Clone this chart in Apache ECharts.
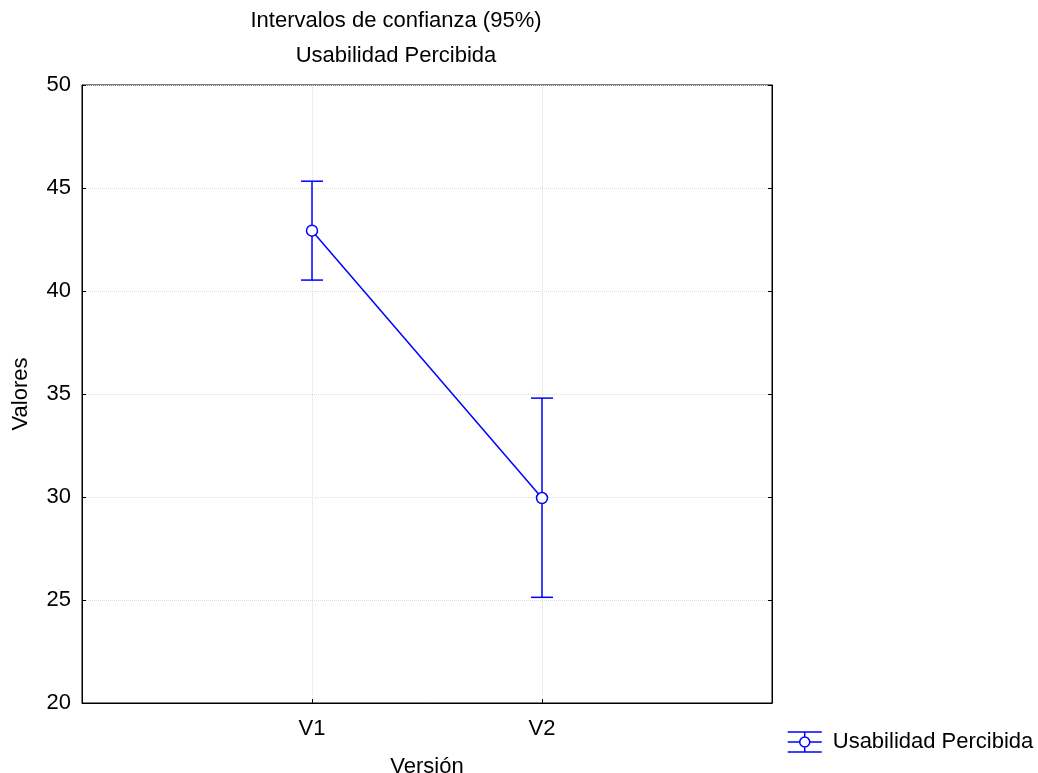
<!DOCTYPE html>
<html lang="es">
<head>
    <meta charset="UTF-8">
    <title>Intervalos de confianza</title>
    <script src="https://cdn.jsdelivr.net/npm/echarts@6/dist/echarts.min.js"></script>
</head>
<body style="margin:0;background:#fff">
<div id="chart" style="width:1038px;height:773px"></div>
<script>
    // datos
    var categories = ['V1', 'V2'];
    var means = [42.93, 29.95];
    var lower = [40.53, 25.13];
    var upper = [45.33, 34.80];
    var yMin = 20, yMax = 50, yStep = 5;

    var blue = '#0000ff';
    var font = 'Liberation Sans, Arial, sans-serif';
    var fs = 22;

    // eje x con huecos a los lados (como en el original)
    var xCats = [''].concat(categories).concat(['']);

    var lineData = categories.map(function (c, i) { return [c, means[i]]; });
    var barData = categories.map(function (c, i) { return [c, lower[i], upper[i]]; });

    var myChart = echarts.init(document.getElementById('chart'));

    var option = {
        animation: false,
        textStyle: {fontFamily: font},
        title: {
            text: 'Intervalos de confianza (95%)\nUsabilidad Percibida',
            left: 396,
            top: 3,
            padding: 0,
            textAlign: 'center',
            textStyle: {fontSize: fs, fontWeight: 'normal', color: '#000', lineHeight: 35, fontFamily: font}
        },
        legend: {
            left: 782,
            top: 726,
            itemWidth: 34,
            itemHeight: 20,
            data: [{
                name: 'Usabilidad Percibida',
                icon: 'path://M0,0H34M0,20H34M0,10H12M22,10H34M17,0V5M17,15V20M12,10A5,5,0,1,0,22,10A5,5,0,1,0,12,10'
            }],
            itemStyle: {color: 'transparent', borderColor: blue, borderWidth: 1.5},
            textStyle: {fontSize: fs, color: '#000', fontFamily: font, padding: [0, 0, 0, 6]}
        },
        grid: {
            left: 82,
            right: 266,
            top: 85,
            bottom: 70,
            outerBoundsMode: 'none',
            containLabel: false,
            show: true,
            borderColor: '#000',
            borderWidth: 1
        },
        xAxis: {
            type: 'category',
            data: xCats,
            boundaryGap: false,
            name: 'Versión',
            nameLocation: 'middle',
            nameGap: 53,
            nameTextStyle: {fontSize: fs, color: '#000', fontFamily: font},
            axisLine: {lineStyle: {color: '#000', width: 1}},
            axisTick: {inside: true, length: 4, lineStyle: {color: '#000'}},
            axisLabel: {fontSize: fs, color: '#000', margin: 15, fontFamily: font},
            splitLine: {show: true, lineStyle: {color: '#dcdcdc', type: 'dotted'}}
        },
        yAxis: [{
            type: 'value',
            min: yMin,
            max: yMax,
            interval: yStep,
            name: 'Valores',
            nameLocation: 'middle',
            nameGap: 50,
            nameTextStyle: {fontSize: fs, color: '#000', fontFamily: font},
            axisLine: {show: true, lineStyle: {color: '#000', width: 1}},
            axisTick: {show: true, inside: true, length: 4, lineStyle: {color: '#000'}},
            axisLabel: {fontSize: fs, color: '#000', margin: 11, fontFamily: font},
            splitLine: {show: true, lineStyle: {color: '#dcdcdc', type: 'dotted'}}
        }, {
            type: 'value',
            position: 'right',
            min: yMin,
            max: yMax,
            interval: yStep,
            axisLine: {show: true, lineStyle: {color: '#000', width: 1}},
            axisTick: {show: true, inside: true, length: 4, lineStyle: {color: '#000'}},
            axisLabel: {show: false},
            splitLine: {show: false}
        }],
        series: [
            {
                name: 'Usabilidad Percibida',
                type: 'custom',
                data: barData,
                encode: {x: 0, y: [1, 2]},
                z: 2,
                renderItem: function (params, api) {
                    var x = api.value(0);
                    var lo = api.coord([x, api.value(1)]);
                    var hi = api.coord([x, api.value(2)]);
                    var w = 11;
                    var st = {stroke: blue, lineWidth: 1.5};
                    return {
                        type: 'group',
                        children: [
                            {type: 'line', shape: {x1: lo[0], y1: lo[1], x2: hi[0], y2: hi[1]}, style: st},
                            {type: 'line', shape: {x1: hi[0] - w, y1: hi[1], x2: hi[0] + w, y2: hi[1]}, style: st},
                            {type: 'line', shape: {x1: lo[0] - w, y1: lo[1], x2: lo[0] + w, y2: lo[1]}, style: st}
                        ]
                    };
                }
            },
            {
                name: 'Usabilidad Percibida',
                type: 'line',
                data: lineData,
                z: 3,
                symbol: 'circle',
                symbolSize: 11,
                itemStyle: {color: '#fff', borderColor: blue, borderWidth: 1.5},
                lineStyle: {color: blue, width: 1.5}
            }
        ]
    };
    myChart.setOption(option);
</script>
</body>
</html>
